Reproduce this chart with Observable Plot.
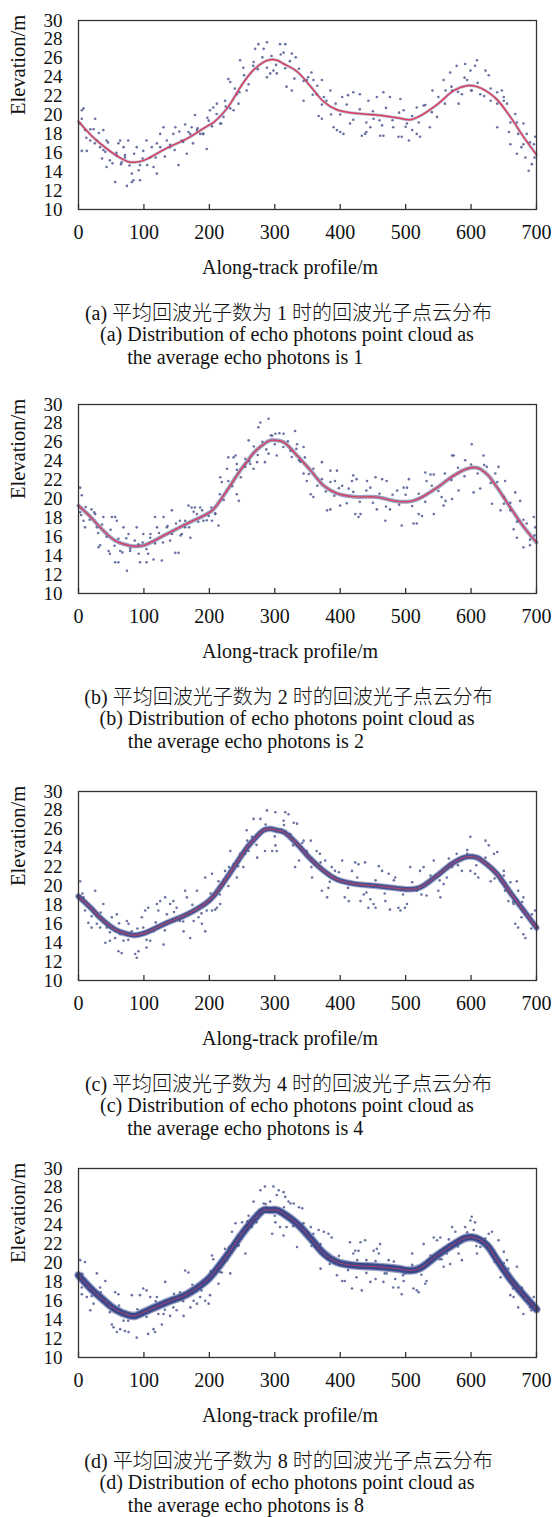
<!DOCTYPE html>
<html><head><meta charset="utf-8">
<script src="https://cdn.jsdelivr.net/npm/d3@7"></script>
<script src="https://cdn.jsdelivr.net/npm/@observablehq/plot@0.6"></script>
<style>
body{margin:0;background:#fff;}
#wrap{position:relative;width:555px;height:1517px;overflow:hidden;font-family:"Liberation Serif","Times New Roman","Noto Sans CJK SC",serif;color:#111;}
.cap-cn{position:absolute;left:0;width:577px;text-align:center;font-size:20px;line-height:24px;white-space:nowrap;font-weight:300;}
.cap-en{position:absolute;left:0;width:574px;text-align:center;font-size:20px;line-height:23px;}
.cap-en .inner{display:inline-block;text-align:left;white-space:nowrap;}
.ghost{visibility:hidden;}
</style></head>
<body><div id="wrap"></div>
<script>
const xTicks = [0,100,200,300,400,500,600,700];
const yTicks = [10,12,14,16,18,20,22,24,26,28,30];
const xLabel = "Along-track profile/m";
const yLabel = "Elevation/m";
const panelIds = ["a","b","c","d"];
const photonCounts = ["1","2","4","8"];
const captionCN = ["平均回波光子数为", "时的回波光子点云分布"];
const captionEN1 = "Distribution of echo photons point cloud as";
const captionEN2 = "the average echo photons is";

const profileX = [0,20,33,56,76,86,100,135,166,196,206,227,247,258,268,283,293,303,314,334,355,375,395,420,456,487,507,522,548,574,594,609,624,640,660,681,700];
const profileA = [19.3,17.8,17.0,15.8,15.05,15.0,15.2,16.5,17.5,18.8,19.2,20.7,22.9,24.0,24.8,25.6,25.85,25.8,25.4,24.6,23.0,21.4,20.55,20.2,20.0,19.7,19.5,19.9,21.1,22.6,23.1,23.0,22.5,21.6,19.8,17.6,15.8];
const profileB = [19.3,18.0,17.0,15.6,15.1,15.0,15.1,16.3,17.4,18.4,18.9,20.9,23.0,24.0,24.9,25.8,26.2,26.2,26.0,24.6,23.0,21.4,20.6,20.25,20.2,19.75,19.75,20.1,21.2,22.5,23.2,23.3,22.65,21.2,19.1,17.0,15.4];
const profileC = [18.9,17.6,16.65,15.4,14.9,14.8,15.0,16.1,17.0,18.25,18.9,20.9,23.0,24.1,24.9,25.9,26.05,25.9,25.7,24.45,22.85,21.6,20.7,20.25,20.0,19.75,19.65,19.85,21.1,22.5,23.1,23.0,22.3,21.25,19.3,17.35,15.6];
const profileD = [18.7,17.2,16.4,15.1,14.5,14.4,14.8,15.85,16.7,18.15,18.9,20.8,22.8,23.8,24.6,25.6,25.6,25.6,25.2,24.15,22.6,21.0,20.1,19.75,19.6,19.4,19.2,19.45,20.8,22.0,22.7,22.6,21.9,20.3,18.3,16.55,15.1];

// scattered (noise) photons
const photonsA = [[5,20.5],[7.6,20.7],[2.5,19.1],[10,18.4],[12.7,16.2],[5,16.2],[25.5,19.6],[23,18.5],[18,17.3],[28,17.3],[33,16.6],[38,18.4],[43,17.3],[41,16.1],[36,15.4],[43,14.5],[48,15.2],[56,12.9],[58.6,15.7],[61,17],[63.7,17.3],[68.8,16.6],[71,15.5],[66,15],[76,17.3],[74,12.5],[81.5,12.9],[81.5,13.8],[84,13.1],[89,16.6],[94,14.7],[94,13.1],[99,16.2],[104,17.3],[109.6,15.5],[114.7,14.5],[119.8,13.8],[119.8,17],[124.9,18],[130,18.7],[135,17.3],[140,16.6],[145,18],[148,18.7],[153,14.7],[158,17.3],[163,19],[165.6,15.9],[170.7,18],[173,18.7],[178,20],[181,18.4],[186,18],[191,18],[196,16.4],[199,19.4],[201,20.5],[206,20.8],[211.5,21.2],[216.6,19.1],[221.7,19.8],[224,21.5],[229,23.8],[232,23.5],[237,20.5],[242,22.2],[244.6,21.2],[247,25.8],[252,25],[257,22.6],[267.6,25.6],[270,27],[275,27.5],[283,27],[288,27.7],[288,24],[293,24.4],[298,24.7],
[308,27.5],[316,27.5],[313.5,26.6],[326,26.5],[332,26.1],[303,24.4],[318,23],[326,22.6],[344,21.5],[349,23.7],[356,24.5],[359,23.7],[364,22.2],[372,23.7],[367,19.9],[372,19.6],[375,21.9],[385,22.6],[390,18.7],[395,18.4],[400,18.2],[405,18],[403,21.9],[415,19.1],[412,22.1],[420,22.4],[430,22.2],[433,17.8],[438,18],[440,18.2],[443,21.5],[446,18.7],[451,19.6],[456,21.9],[461,17.8],[466,17.8],[464,18.9],[466,22.4],[476,21.9],[481,18.7],[489,17.7],[494,17.7],[492,21.7],[497,20.5],[502,19.1],[505,17.3],[510,18.4],[517,18],[517,20.8],[522,17.7],[527.5,21],[537,18.7],[541,22.6],[548,19.8],[558,23.7],[561,22.6],[568,24.5],[571,22.6],[578,25.2],[581,21.2],[586,22.2],[591,25.4],[594,23.7],[599,24.7],[601,22.6],[606,25.2],[609,25.8],[614,22.2],[622,24.7],[627,24.2],[630,21.5],[640,22.4],[640,18.7],[647,22.6],[650,21.9],[655,21.2],[658,18.2],[660,16.9],[667.5,20.1],[670,15.9],[672,18],[677,16.6],[680,19.1],[683,15.5],[685,18],[688,14.1],[693,14.8],[696,16.9],[698,17.7]];

const photonsB = [[2.5,21.2],[5,20.4],[2.5,18.6],[7.6,17.7],[10,17],[20,18.9],[25.5,18.4],[28,17],[30.6,14.9],[33,15.1],[38,18.1],[46,14.5],[48,14.2],[51,18.1],[56,18.1],[58.6,17.7],[56,13.3],[61,13.3],[63.7,14.5],[68.8,17],[74,12.4],[76.5,16.3],[79,14.5],[89,17],[91.5,15.2],[94,13.3],[99,16.3],[104,13.3],[106.5,14.2],[109.6,15.9],[114.7,13.6],[117,18.1],[120,17],[127.4,13.5],[130,18.1],[135,17],[140,15.6],[142.7,18.8],[148,14.3],[153,14.3],[155,17.7],[158,16.3],[163,17],[168,19.3],[171,15.9],[173,19.1],[178,19.1],[181,18.4],[186,19.1],[191,17.7],[199,18.2],[204,17.7],[209,18.4],[214,17.2],[216.6,22.3],[219,21.8],[227,23.2],[229,24.4],[237,24.4],[240,24.6],[242,23.7],[242,20.5],[245,19.8],[255,23.4],[260,26.2],[262.5,23.7],[267.6,23.2],[273,23.9],[275,27.6],[278,28.1],[285,23.9],[290.5,28.5],[290.5,24.8],[296,26.7],[301,26.9],
[313.5,26.9],[331,27.2],[303,24.6],[324,25.1],[334,25.8],[344,25.5],[337,24.1],[344,22.7],[349,21.9],[355,20.5],[359,20.2],[372,23.9],[380,18.8],[385,18.9],[385,23],[395,23],[392,21.9],[400,19.3],[403,21.4],[413,21.1],[418,21.9],[420,22.5],[425,22.1],[423,18.4],[428,18.1],[431,18.4],[441,21.9],[446,21.2],[454,22.3],[456,18.9],[464,22.1],[471,21.9],[469,17.7],[476,18.9],[487,20.9],[494,17.2],[497,21.2],[502,21.2],[505,22.1],[512,17.4],[517,17.4],[520,18.4],[525,18.2],[530,22.8],[532,21.9],[538,22.6],[543,22.6],[543,18.4],[555,20.2],[558,19.3],[561,19.8],[571,24.6],[573.5,24.6],[571,20],[581,20.9],[591,24.1],[601,25.8],[604,20.7],[614,21.1],[619,24.6],[624,23.4],[632,19.5],[637,22.7],[642,23.4],[645,18.8],[650,20.2],[652,21.9],[660,18.8],[665,16.8],[667.5,20.7],[670,15.9],[672,17.7],[675,19.8],[680,14.9],[685,17.4],[690,15.1],[696,18.1],[698,17]];

const photonsC = [[2.5,20.5],[7.6,18.8],[10,17.4],[15,16.1],[20,15.6],[25.5,19.5],[28,16],[33,15.6],[38,18.1],[41,14],[43,15.6],[48,14.2],[51,16.7],[56,14.5],[58.6,17],[61,13.1],[63.7,14.9],[66,12.9],[68.8,14.2],[74,16.3],[76.5,16],[81.5,15.2],[86.6,12.8],[89,12.4],[91.7,13.1],[96.8,16.7],[99,15.6],[102,17.4],[104,13.5],[106.5,17.7],[109.6,14.2],[114.7,15.2],[119.8,18.1],[122,17.4],[124.9,18.4],[130,13.8],[132.5,18.8],[135,17],[140,18.1],[145,18.4],[150,17.7],[155,16.3],[160.6,15.2],[163,19.5],[165.6,18.8],[170.7,14.5],[176,16.3],[181,19.5],[183.5,16.7],[188.6,16],[193.7,15.2],[196,17.4],[204,17.4],[209,17.5],[211.5,17.7],[216.6,18.1],[193.7,20.9],[204,21.3],[214,20.5],[224,21.6],[229,20],[232,23.7],[237,22.3],[242,20.9],[247,23.4],[252,22],[254.8,23.4],[257,25.9],[260,23.7],[265,25.2],[267.6,27.1],[273,23],[278,27.1],[285,23.7],[288,28],[296,23.7],[301,27.8],
[301,24.3],[303,23.7],[310,26],[316,27.8],[321,27.6],[313.5,26.9],[324,25.5],[329,26.7],[334,26.6],[331,22],[337,22.7],[344,24.8],[349,23.7],[355,24.8],[357,20.9],[364,23.7],[369,23.4],[372,19.5],[377,22.7],[380,18.8],[382,19.8],[387,22],[392,21.6],[403,22.7],[407,18.8],[413,18.4],[418,21.6],[423,22.5],[428,22.3],[431,18.4],[436,19.1],[438,22.5],[443,17.7],[446,18.6],[451,18.1],[454,17.7],[459,22.1],[464,21.6],[469,18.4],[474,21.3],[476,17.5],[484,20.9],[489,17.7],[492,17.4],[499,17.7],[502,18.1],[507,22],[517,19.5],[522,21.6],[527.5,22],[532,19],[543,22.7],[550,19.5],[553,18.8],[558,20.2],[563,20.9],[571,22],[578,23.4],[586,21.6],[594,23.4],[599,25.2],[599,21.6],[606,21.3],[611,20.9],[619,22.7],[622,24.8],[627,24.3],[630,20.5],[635,23.4],[640,23.6],[645,20.5],[650,21.6],[652,19.5],[657,18.4],[660,20.4],[665,18.1],[670,20.5],[672,19.5],[677,16.7],[680,18.8],[667.5,16],[672,15.6],[680,14.9],[683,14.5],[693,17],[698,17.4]];

const photonsD = [[2.5,20.3],[10,20.1],[5,17.4],[5,16.7],[12.7,16.4],[18,15],[23,15.7],[28,18.9],[33,17.4],[41,18.1],[43,16],[48,15.3],[51,13.5],[53.5,13.2],[56,16.9],[58.6,12.7],[61,16.7],[63.7,13],[68.8,13.9],[71,12.8],[74,14.6],[76.5,12.7],[81.5,16.6],[89,12.1],[94,16.6],[99,17.3],[104,17.1],[106.5,12.5],[109.6,16.4],[114.7,13],[117,12.7],[119.8,16.4],[122,14.6],[127.4,13.5],[130,14.6],[132.5,18],[140,14.4],[145,15.3],[150,15],[155,16.9],[160.6,14.4],[163,19.2],[168,19],[171,15.3],[176,16],[181,15.7],[186,16.4],[193.7,16],[199,15.7],[201,16.6],[204,20.8],[206,20.4],[214,17.8],[219,19],[224,21.5],[227,20.3],[232,18.9],[234.5,23.3],[240,24.2],[245,21.9],[247,23.1],[250,24.3],[255,21],[260,25],[265,23.8],[267.6,26.5],[273,24.9],[278,27.7],[283,26.3],[285,28.1],[293,26.5],[296,23.1],[298,28.1],[303,27.2],
[306,27.7],[313.5,27.5],[301,24.3],[308,23.8],[313.5,22.9],[316,27],[321,26.5],[324,26.3],[329,26.3],[337,25.9],[342,25.8],[318,23.8],[334,21.7],[344,24.2],[355,23.8],[359,23.1],[367,23.5],[370,19.4],[375,23.3],[382,23.1],[387,22.7],[395,18.7],[403,18.1],[407,18.1],[415,22.2],[418,17.3],[420,21],[423,21.3],[428,21.3],[431,22.2],[425,18.5],[433,17.1],[438,22.4],[440,20.3],[446,18],[451,21.3],[454,18.3],[456,21.5],[459,21],[461,22],[466,18],[471,18.9],[474,20.3],[481,17.4],[484,18.3],[489,17.4],[494,16.7],[497,18.1],[499,18.9],[510,21],[512,17.3],[517,17.1],[520,16.9],[527.5,22],[530,17.8],[532,18.1],[543,22.7],[548,22.4],[553,22.7],[555,20.4],[558,19.6],[563,21],[568,19.9],[571,23.8],[576,23.3],[581,21],[586,20.3],[591,23.8],[599,24.5],[601,24.9],[606,24.3],[604,23.5],[609,21],[614,21.7],[619,21.9],[627,23.1],[632,23.3],[635,21.3],[642,22.4],[645,18.5],[650,21.2],[655,20.3],[657,19.4],[660,16.6],[665,16.4],[670,19.6],[672,15.3],[677,17.4],[680,14.6],[683,16.2],[690,15.3],[696,16.4]];

// photons lying close to the surface line
const nearA = [[5,19.6],[12,17.6],[18,18.5],[25,17.0],[31,18.1],[38,16.3],[45,17.1],[52,14.9],[58,16.0],[65,14.8],[71,15.75],[78,14.65],[85,15.9],[92,14.15],[98,15.4],[105,14.7],[112,16.6],[118,15.5],[125,16.6],[132,15.6],[140,16.85],[147,16.3],[154,18.25],[160,17.15],[168,18.2],[175,17.0],[182,18.6],[190,18.0],[197,19.7],[204,18.8],[211,20.1],[218,19.1],[225,20.9],[232,20.7],[239,22.8],[246,22.4],[253,24.2],[260,23.25],[267,25.2],[274,24.85],[281,26.1],[288,25.0],[295,26.25],[302,25.3],[309,26.4],[316,24.95],[323,25.7],[330,23.85],[337,24.9],[344,23.6],[351,24.0],[358,22.15],[365,23.1],[372,21.1],[379,21.5],[386,20.05],[393,21.2],[400,20.05],[410,21.1],[420,19.5],[430,20.6],[440,19.2],[450,20.4],[460,19.45],[470,20.75],[480,19.45],[490,20.25],[500,18.75],[510,19.9],[520,19.2],[530,21.05],[540,20.3],[550,21.9],[560,21.2],[570,23.0],[580,22.45],[590,23.95],[600,22.6],[610,23.4],[620,22.0],[630,22.8],[640,21.2],[650,21.5],[660,19.2],[670,19.2],[680,16.9],[690,17.1],[697,15.5]];
const nearB = [[4,18.3],[11,19.15],[17,17.8],[24,18.6],[30,16.4],[36,17.3],[43,16.0],[49,16.75],[55,15.05],[61,15.8],[67,14.35],[73,15.85],[79,14.75],[86,15.6],[92,14.2],[98,15.4],[104,14.7],[110,16.3],[117,15.3],[123,16.4],[129,15.4],[136,17.15],[143,16.3],[149,17.4],[156,16.15],[163,17.7],[169,17.0],[176,18.65],[183,17.6],[189,18.8],[196,17.75],[203,19.1],[209,18.5],[216,20.5],[222,19.9],[229,21.9],[235,21.35],[242,23.1],[248,22.3],[255,24.25],[261,24.0],[268,25.55],[274,24.65],[281,26.05],[287,25.25],[294,26.75],[300,25.8],[307,26.95],[313,25.5],[320,26.1],[326,24.45],[333,25.3],[339,23.95],[346,24.4],[352,22.65],[359,23.2],[365,21.4],[372,22.1],[378,20.8],[385,21.8],[391,20.35],[398,21.15],[410,19.55],[420,20.75],[430,19.7],[440,20.9],[450,19.6],[460,20.55],[470,19.2],[480,20.45],[490,19.4],[500,20.45],[510,19.25],[520,20.55],[530,19.7],[540,21.4],[550,20.85],[560,22.7],[570,22.0],[580,23.3],[590,22.4],[600,23.65],[610,22.7],[620,23.6],[630,21.7],[640,21.8],[650,19.5],[660,19.6],[670,17.6],[680,17.8],[690,15.7],[697,16.15]];
const nearC = [[6,19.2],[20,16.8],[34,17.2],[48,15.1],[62,16.05],[76,14.3],[90,15.5],[104,14.3],[118,16.15],[132,15.3],[146,17.25],[160,16.25],[174,18.0],[188,17.1],[202,19.2],[216,19.1],[230,22.0],[244,22.1],[258,24.8],[272,24.35],[286,26.5],[300,25.25],[314,26.45],[328,24.3],[342,24.55],[356,22.0],[370,22.5],[384,20.45],[398,21.45],[412,19.8],[426,20.9],[440,19.3],[454,20.6],[468,19.2],[482,20.6],[496,19.1],[510,20.4],[524,19.1],[538,21.1],[552,20.6],[566,22.9],[580,22.2],[594,23.8],[608,22.2],[622,23.0],[636,20.8],[650,21.1],[664,18.3],[678,18.3],[692,15.5]];
const nearD = [[6,18.85],[20,16.5],[34,16.9],[48,14.8],[62,15.5],[76,13.9],[90,15.1],[104,14.3],[118,15.95],[132,15.05],[146,16.75],[160,15.95],[174,17.7],[188,17.1],[202,19.15],[216,19.05],[230,21.7],[244,21.8],[258,24.4],[272,24.3],[286,26.25],[300,25.0],[314,25.9],[328,23.9],[342,24.15],[356,21.8],[370,22.0],[384,19.9],[398,20.75],[412,19.25],[426,20.32],[440,18.95],[454,20.2],[468,18.9],[482,20.15],[496,18.7],[510,19.8],[524,18.75],[538,20.8],[552,20.4],[566,22.5],[580,21.75],[594,23.25],[608,21.8],[622,22.6],[636,20.1],[650,20.0],[664,17.3],[678,17.35],[692,15.0]];

const profiles = [profileA, profileB, profileC, profileD];
const photons = [photonsA, photonsB, photonsC, photonsD];
const nears = [nearA, nearB, nearC, nearD];
const frameTops = [20, 404, 791, 1168];
const bandStyle = [
  {w1: 0, o1: 0, w2: 3, o2: 0.35, red: 1.5, redO: 1},
  {w1: 0, o1: 0, w2: 4, o2: 0.5, red: 1.4, redO: 1},
  {w1: 6.5, o1: 0.45, w2: 4.5, o2: 0.85, red: 1.1, redO: 0.75},
  {w1: 8.5, o1: 0.55, w2: 6, o2: 0.95, red: 1.0, redO: 0.7}
];
const font = '"Liberation Serif","Times New Roman",serif';
const wrap = document.getElementById("wrap");

panelIds.forEach((id, i) => {
  const prof = profileX.map((x, j) => ({x, y: profiles[i][j]}));
  const bs = bandStyle[i];
  const bandMarks = [];
  if (bs.w1 > 0) bandMarks.push(Plot.line(prof, {x: "x", y: "y", curve: "catmull-rom", stroke: "#3d4b8c", strokeWidth: bs.w1, strokeOpacity: bs.o1}));
  bandMarks.push(Plot.line(prof, {x: "x", y: "y", curve: "catmull-rom", stroke: "#34428a", strokeWidth: bs.w2, strokeOpacity: bs.o2, strokeDasharray: "1.4,1"}));
  const chart = Plot.plot({
    width: 555, height: 269,
    marginLeft: 78, marginRight: 19, marginTop: 10, marginBottom: 70,
    x: {domain: [0, 700], axis: null},
    y: {domain: [10, 30], axis: null},
    style: {fontFamily: font, color: "#111", background: "transparent", overflow: "visible"},
    marks: [
      ...bandMarks,
      Plot.dot(photons[i], {x: d => d[0], y: d => d[1], r: 1.3, fill: "#4d5a92", fillOpacity: 0.85}),
      Plot.dot(nears[i], {x: d => d[0], y: d => d[1], r: 1.3, fill: "#4d5a92", fillOpacity: 0.85}),
      Plot.line(prof, {x: "x", y: "y", curve: "catmull-rom", stroke: "#dc3d5a", strokeWidth: bs.red, strokeOpacity: bs.redO}),
      Plot.frame({stroke: "#333", strokeWidth: 1.3}),
      Plot.tickX(xTicks, {x: d => d, stroke: "#333", strokeWidth: 1.3, insetTop: 184}),
      Plot.text(xTicks, {x: d => d, frameAnchor: "bottom", dy: 23.5, text: d => String(d), fontSize: 20, lineAnchor: "middle", fill: "#111"}),
      Plot.text(yTicks, {y: d => d, frameAnchor: "left", dx: -16, text: d => String(d), textAnchor: "end", fontSize: 19, lineAnchor: "middle", fill: "#111"}),
      Plot.text([yLabel], {frameAnchor: "left", dx: -60, rotate: -90, text: d => d, fontSize: 20.5, fill: "#111"}),
      Plot.text([xLabel], {frameAnchor: "bottom", dy: 58, dx: -17.5, text: d => d, fontSize: 20, lineAnchor: "middle", fill: "#111"})
    ]
  });
  chart.style.position = "absolute";
  chart.style.left = "0px";
  chart.style.top = (frameTops[i] - 10) + "px";
  wrap.appendChild(chart);

  const B = frameTops[i] + 189;
  const cn = document.createElement("div");
  cn.className = "cap-cn";
  cn.style.top = (B + 92) + "px";
  cn.textContent = `(${id}) ${captionCN[0]} ${photonCounts[i]} ${captionCN[1]}`;
  wrap.appendChild(cn);

  const en = document.createElement("div");
  en.className = "cap-en";
  en.style.top = (B + 114) + "px";
  const inner = document.createElement("span");
  inner.className = "inner";
  inner.innerHTML = `(${id}) ${captionEN1}<br><span class="ghost">(${id}) </span>${captionEN2} ${photonCounts[i]}`;
  en.appendChild(inner);
  wrap.appendChild(en);
});
</script>
</body></html>
